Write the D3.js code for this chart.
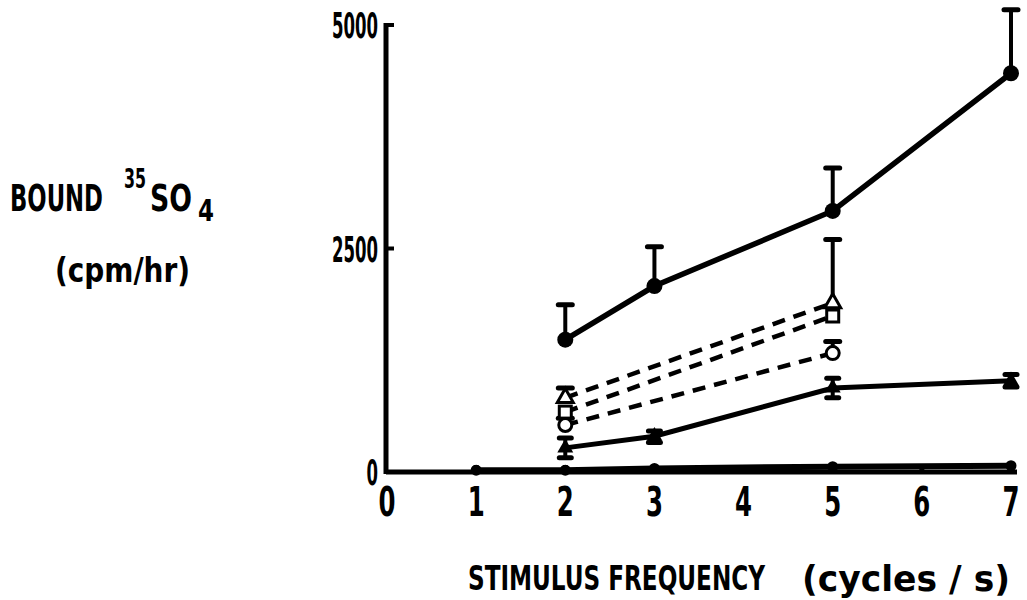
<!DOCTYPE html>
<html>
<head>
<meta charset="utf-8">
<script src="https://cdn.jsdelivr.net/npm/d3@7"></script>
<style>
  body { margin: 0; background: #fff; }
  text { font-family: "DejaVu Sans Condensed", "DejaVu Sans", sans-serif; font-weight: bold; fill: #000; }
</style>
</head>
<body>
<svg id="chart" width="1027" height="600"></svg>
<script>
// values
const xTicks = [0, 1, 2, 3, 4, 5, 6, 7];
const yTicks = [0, 2500, 5000];

// top solid line, filled circles
const topX = [2, 3, 5, 7];
const topY = [1480, 2080, 2920, 4460];
const topErr = [1870, 2520, 3400, 5170];

// dashed, open triangles
const triX = [2, 5];
const triY = [830, 1890];
const triErr = [940, 2600];

// dashed, open squares
const sqX = [2, 5];
const sqY = [670, 1745];

// dashed, open circles
const ocX = [2, 5];
const ocY = [525, 1330];
const ocErr = [600, 1460];

// middle solid line, filled triangles
const midX = [2, 3, 5, 7];
const midY = [270, 400, 940, 1020];
const midErrHi = [380, 460, 1050, 1090];
const midErrLo = [160, 330, 830, 950];

// bottom solid line
const lowX = [1, 2, 3, 5, 7];
const lowY = [20, 20, 40, 60, 70];

const svg = d3.select("#chart");
const x = d3.scaleLinear().domain([0, 7]).range([387, 1011]);
const y = d3.scaleLinear().domain([0, 5000]).range([472, 25]);

// narrow bold lettering, fitted to a width
function label(px, py, str, size, anchor, w) {
  return svg.append("text").attr("x", px).attr("y", py)
    .attr("text-anchor", anchor || "start").attr("font-size", size)
    .attr("textLength", w).attr("lengthAdjust", "spacingAndGlyphs")
    .text(str);
}

// axes
svg.append("line").attr("x1", x(0) - 1).attr("x2", x(7) + 6)
  .attr("y1", y(0)).attr("y2", y(0)).attr("stroke", "#000").attr("stroke-width", 5);
svg.append("line").attr("x1", x(0) - 1).attr("x2", x(0) - 1)
  .attr("y1", y(0) + 2).attr("y2", y(5000) - 2).attr("stroke", "#000").attr("stroke-width", 5);

svg.selectAll(".yt").data(yTicks).enter().append("line")
  .attr("x1", x(0)).attr("x2", x(0) + 7)
  .attr("y1", d => y(d)).attr("y2", d => y(d))
  .attr("stroke", "#000").attr("stroke-width", 4);
svg.selectAll(".xt").data(xTicks.slice(1)).enter().append("line")
  .attr("x1", d => x(d)).attr("x2", d => x(d))
  .attr("y1", y(0)).attr("y2", y(0) - 7)
  .attr("stroke", "#000").attr("stroke-width", 5);

xTicks.forEach(d => label(x(d), 516, d, 40, "middle", 17));
yTicks.forEach(d => label(x(0) - 9, y(d) + 13, d, 36, "end", String(d).length * 11.5));

// titles
label(10, 211, "BOUND", 38, "start", 93);
label(124, 188, "35", 26, "start", 22);
label(150, 211, "SO", 38, "start", 42);
label(198, 221, "4", 30, "start", 16);
label(55, 282, "(cpm/hr)", 34, "start", 135);
label(468, 590, "STIMULUS FREQUENCY", 34, "start", 297);
label(802, 591, "(cycles / s)", 36, "start", 208);

function zip(xs, ys) { return xs.map((v, i) => [v, ys[i]]); }
const line = d3.line().x(d => x(d[0])).y(d => y(d[1]));

function errBars(xs, from, to, w) {
  const g = svg.append("g");
  xs.forEach((v, i) => {
    g.append("line").attr("x1", x(v)).attr("x2", x(v))
      .attr("y1", y(from[i])).attr("y2", y(to[i]))
      .attr("stroke", "#000").attr("stroke-width", 4);
    g.append("line").attr("x1", x(v) - w).attr("x2", x(v) + w)
      .attr("y1", y(to[i])).attr("y2", y(to[i]))
      .attr("stroke", "#000").attr("stroke-width", 5).attr("stroke-linecap", "round");
  });
}

// lines
svg.append("path").datum(zip(lowX, lowY)).attr("d", line)
  .attr("fill", "none").attr("stroke", "#000").attr("stroke-width", 6);
svg.append("path").datum(zip(midX, midY)).attr("d", line)
  .attr("fill", "none").attr("stroke", "#000").attr("stroke-width", 5);
[[ocX, ocY], [sqX, sqY], [triX, triY]].forEach(s => {
  svg.append("path").datum(zip(s[0], s[1])).attr("d", line)
    .attr("fill", "none").attr("stroke", "#000").attr("stroke-width", 4.5)
    .attr("stroke-dasharray", "13,9");
});
svg.append("path").datum(zip(topX, topY)).attr("d", line)
  .attr("fill", "none").attr("stroke", "#000").attr("stroke-width", 5.5);

// error bars
errBars(topX, topY, topErr, 7);
errBars(triX, triY, triErr, 7);
errBars(ocX, ocY, ocErr, 7);
errBars(midX, midY, midErrHi, 6);
errBars(midX, midY, midErrLo, 6);

// markers
svg.selectAll(".top").data(zip(topX, topY)).enter().append("circle")
  .attr("cx", d => x(d[0])).attr("cy", d => y(d[1])).attr("r", 8).attr("fill", "#000");
svg.selectAll(".low").data(zip(lowX, lowY)).enter().append("circle")
  .attr("cx", d => x(d[0])).attr("cy", d => y(d[1])).attr("r", 5.5).attr("fill", "#000");
svg.selectAll(".mid").data(zip(midX, midY)).enter().append("path")
  .attr("transform", d => `translate(${x(d[0])},${y(d[1])})`)
  .attr("d", d3.symbol(d3.symbolTriangle, 110)).attr("fill", "#000");
svg.selectAll(".tri").data(zip(triX, triY)).enter().append("path")
  .attr("transform", d => `translate(${x(d[0])},${y(d[1])})`)
  .attr("d", d3.symbol(d3.symbolTriangle, 110))
  .attr("fill", "#fff").attr("stroke", "#000").attr("stroke-width", 3);
svg.selectAll(".sq").data(zip(sqX, sqY)).enter().append("rect")
  .attr("x", d => x(d[0]) - 6).attr("y", d => y(d[1]) - 6)
  .attr("width", 12).attr("height", 12)
  .attr("fill", "#fff").attr("stroke", "#000").attr("stroke-width", 3);
svg.selectAll(".oc").data(zip(ocX, ocY)).enter().append("circle")
  .attr("cx", d => x(d[0])).attr("cy", d => y(d[1])).attr("r", 6.5)
  .attr("fill", "#fff").attr("stroke", "#000").attr("stroke-width", 3);
</script>
</body>
</html>
